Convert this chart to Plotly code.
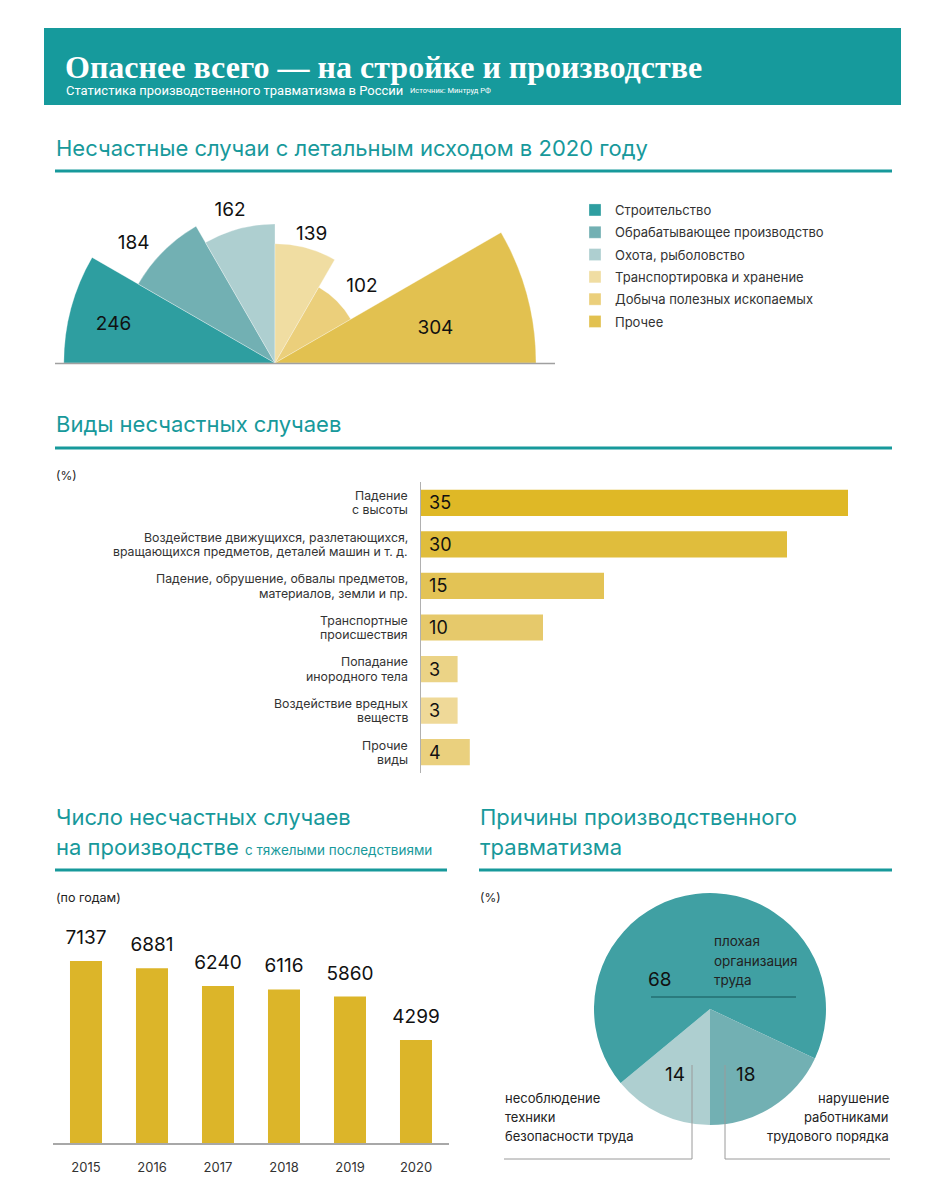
import plotly.graph_objects as go

OFF = 8              # page body margin of the written html
FW, FH = 912, 1184   # figure size so that it fits in 928x1200 window
def fx(x): return (x - OFF) / FW
def fy(y): return 1 - (y - OFF) / FH

TEAL = "#17999b"
SANS = "Inter, Roboto, sans-serif"

# ---- data ----
sectors = ["Строительство", "Обрабатывающее производство", "Охота, рыболовство",
           "Транспортировка и хранение", "Добыча полезных ископаемых", "Прочее"]
fatal = [246, 184, 162, 139, 102, 304]
sector_colors = ["#2e9ea0", "#72b0b3", "#aecfd0", "#f0dda2", "#ebcf7b", "#e2c150"]
label_r = [193, 215, 184, 155, 134, 191]
label_theta_shift = [2, 5, 1.5, -1, -4, -3]

kinds = ["Падение<br>с высоты",
         "Воздействие движущихся, разлетающихся,<br>вращающихся предметов, деталей машин и т. д.",
         "Падение, обрушение, обвалы предметов,<br>материалов, земли и пр.",
         "Транспортные<br>происшествия",
         "Попадание<br>инородного тела",
         "Воздействие вредных<br>веществ",
         "Прочие<br>виды"]
kinds_pct = [35, 30, 15, 10, 3, 3, 4]
kinds_colors = ["#dfb826", "#e0bd3c", "#e3c355", "#e6c96b", "#ebd386", "#efd998", "#ead07e"]

years = ["2015", "2016", "2017", "2018", "2019", "2020"]
serious = [7137, 6881, 6240, 6116, 5860, 4299]

causes = ["несоблюдение техники безопасности труда", "плохая организация труда",
          "нарушение работниками трудового порядка"]
causes_pct = [14, 68, 18]
causes_colors = ["#aecfd0", "#40a0a3", "#72b0b3"]

fig = go.Figure()

# ---- polar half-fan ----
n = len(sectors)
step = 180 / n
for i in range(n):
    fig.add_trace(go.Barpolar(
        r=[fatal[i]], theta=[180 - step * (i + 0.5)], width=[step],
        name=sectors[i], legendgroup=f"g{i}",
        marker=dict(color=sector_colors[i], line=dict(color="rgba(255,255,255,0.6)", width=0.5)),
        subplot="polar", showlegend=True, hoverinfo="skip"))
fig.add_trace(go.Scatterpolar(
    r=label_r, theta=[180 - step * (i + 0.5) + label_theta_shift[i] for i in range(n)],
    text=[str(v) for v in fatal], mode="text",
    textfont=dict(size=19, color="#111", family=SANS),
    subplot="polar", showlegend=False, hoverinfo="skip"))

# ---- horizontal bars ----
fig.add_trace(go.Bar(
    y=kinds, x=kinds_pct, orientation="h", width=0.63,
    marker=dict(color=kinds_colors, line=dict(width=0)),
    texttemplate="\u00a0%{x}", textposition="inside", insidetextanchor="start", textangle=0,
    textfont=dict(size=18, color="#111", family=SANS), constraintext="none",
    xaxis="x", yaxis="y", showlegend=False, hoverinfo="skip"))

# ---- vertical bars ----
fig.add_trace(go.Bar(
    x=years, y=serious, width=0.485,
    marker=dict(color="#dcb529", line=dict(width=0)),
    xaxis="x2", yaxis="y2", showlegend=False, hoverinfo="skip"))
fig.add_trace(go.Scatter(
    x=years, y=serious, mode="markers+text", text=[str(v) for v in serious],
    textposition="top center", marker=dict(size=18, color="rgba(0,0,0,0)"),
    textfont=dict(size=19, color="#111", family=SANS), cliponaxis=False,
    xaxis="x2", yaxis="y2", showlegend=False, hoverinfo="skip"))

# ---- pie ----
fig.add_trace(go.Pie(
    values=causes_pct, labels=causes, sort=False, direction="clockwise", rotation=180,
    marker=dict(colors=causes_colors, line=dict(width=0)), textinfo="none",
    domain=dict(x=[fx(594), fx(826)], y=[fy(1125), fy(893)]),
    showlegend=False, hoverinfo="skip"))

shapes = []
shapes.append(dict(type="rect", xref="paper", yref="paper", x0=fx(44), x1=fx(901), y0=fy(28), y1=fy(105),
                   fillcolor="#169a9c", line=dict(width=0), layer="below"))
for x0, x1, y in [(55, 892, 171), (55, 892, 448), (55, 447, 870), (479, 892, 870)]:
    shapes.append(dict(type="line", xref="paper", yref="paper", x0=fx(x0), x1=fx(x1), y0=fy(y), y1=fy(y),
                       line=dict(color=TEAL, width=3)))
shapes.append(dict(type="line", xref="paper", yref="paper", x0=fx(55), x1=fx(555), y0=fy(363.5), y1=fy(363.5),
                   line=dict(color="#a0a0a0", width=1.5)))
shapes.append(dict(type="line", xref="paper", yref="paper", x0=fx(651), x1=fx(796), y0=fy(997), y1=fy(997),
                   line=dict(color="#2a7b7e", width=2)))
shapes.append(dict(type="path", xref="paper", yref="paper",
                   path=f"M {fx(692)} {fy(1065)} L {fx(692)} {fy(1159)} L {fx(504)} {fy(1159)}",
                   line=dict(color="#9a9a9a", width=1)))
shapes.append(dict(type="path", xref="paper", yref="paper",
                   path=f"M {fx(725)} {fy(1065)} L {fx(725)} {fy(1159)} L {fx(890)} {fy(1159)}",
                   line=dict(color="#9a9a9a", width=1)))

ann = []
def text(x, y, s, size, color="#222", family=SANS, xanchor="left", yanchor="middle", align="left"):
    ann.append(dict(x=fx(x), y=fy(y), xref="paper", yref="paper", text=s, showarrow=False,
                    xanchor=xanchor, yanchor=yanchor, align=align,
                    font=dict(size=size, color=color, family=family)))

text(63, 67, "<b>Опаснее всего — на стройке и производстве</b>", 32, "white", "Liberation Serif")
text(64, 90, "Статистика производственного травматизма в России", 13, "white", "Roboto")
text(408, 91, "Источник: Минтруд РФ", 7.5, "white", "Roboto")

text(54, 148, "Несчастные случаи с летальным исходом в 2020 году", 22, TEAL)
text(54, 424, "Виды несчастных случаев", 22, TEAL)
text(54, 817, "Число несчастных случаев", 22, TEAL)
text(54, 847, "на производстве <span style='font-size:13.5px'>с тяжелыми последствиями</span>", 22, TEAL)
text(478, 817, "Причины производственного", 22, TEAL)
text(478, 847, "травматизма", 22, TEAL)

text(54, 475, "(%)", 12)
text(54, 897, "(по годам)", 12.5)
text(478, 897, "(%)", 12)

text(660, 979, "68", 19, "#111", xanchor="center")
text(675, 1074, "14", 19, "#111", xanchor="center")
text(745, 1074, "18", 19, "#111", xanchor="center")
for i, s in enumerate(["плохая", "организация", "труда"]):
    text(712, 941 + 19.5 * i, s, 13.5)
for i, s in enumerate(["несоблюдение", "техники", "безопасности труда"]):
    text(503, 1098 + 19 * i, s, 13)
for i, s in enumerate(["нарушение", "работниками", "трудового порядка"]):
    text(891, 1098 + 19 * i, s, 13, xanchor="right", align="right")

# category labels of the horizontal bar chart, tied to the y axis categories
LINE_H = 14.3
for k in kinds:
    lines = k.split("<br>")
    for j, line in enumerate(lines):
        ann.append(dict(x=fx(410), xref="paper", y=k, yref="y", text=line, showarrow=False,
                        xanchor="right", yanchor="middle", align="right",
                        yshift=-(j - (len(lines) - 1) / 2) * LINE_H,
                        font=dict(size=12.3, color="#333", family=SANS)))

R_PX = 266
fig.update_layout(
    width=FW, height=FH, margin=dict(l=0, r=0, t=0, b=0),
    paper_bgcolor="white", plot_bgcolor="rgba(0,0,0,0)",
    font=dict(family=SANS, color="#222"),
    shapes=shapes, annotations=ann,
    polar=dict(
        domain=dict(x=[fx(275 - R_PX), fx(275 + R_PX)], y=[fy(363), fy(363 - R_PX)]),
        sector=[0, 180], bgcolor="rgba(0,0,0,0)", hole=0,
        radialaxis=dict(range=[0, R_PX * 304 / 261], visible=False, showgrid=False),
        angularaxis=dict(visible=False, showgrid=False, direction="counterclockwise", rotation=0),
    ),
    legend=dict(x=fx(575), y=fy(195), xanchor="left", yanchor="top",
                font=dict(size=13, color="#333", family=SANS),
                bgcolor="rgba(0,0,0,0)", traceorder="grouped", tracegroupgap=2.4,
                itemclick=False, itemdoubleclick=False),
    xaxis=dict(domain=[fx(421), fx(421 + 36 * 12.2)], range=[0, 36], visible=False, fixedrange=True),
    yaxis=dict(domain=[fy(773), fy(482)], autorange="reversed", showline=True, linecolor="#b0b0b0",
               linewidth=1, ticks="", showticklabels=False, showgrid=False, zeroline=False, anchor="x"),
    xaxis2=dict(domain=[fx(53), fx(449)], anchor="y2", showline=True, linecolor="#a8a8a8", linewidth=1.5,
                ticks="", ticklabelstandoff=12, tickfont=dict(size=13, color="#333", family=SANS),
                showgrid=False, zeroline=False),
    yaxis2=dict(domain=[fy(1143), fy(900)], anchor="x2", range=[600, 9328], visible=False),
)

fig.write_html("out.html")
